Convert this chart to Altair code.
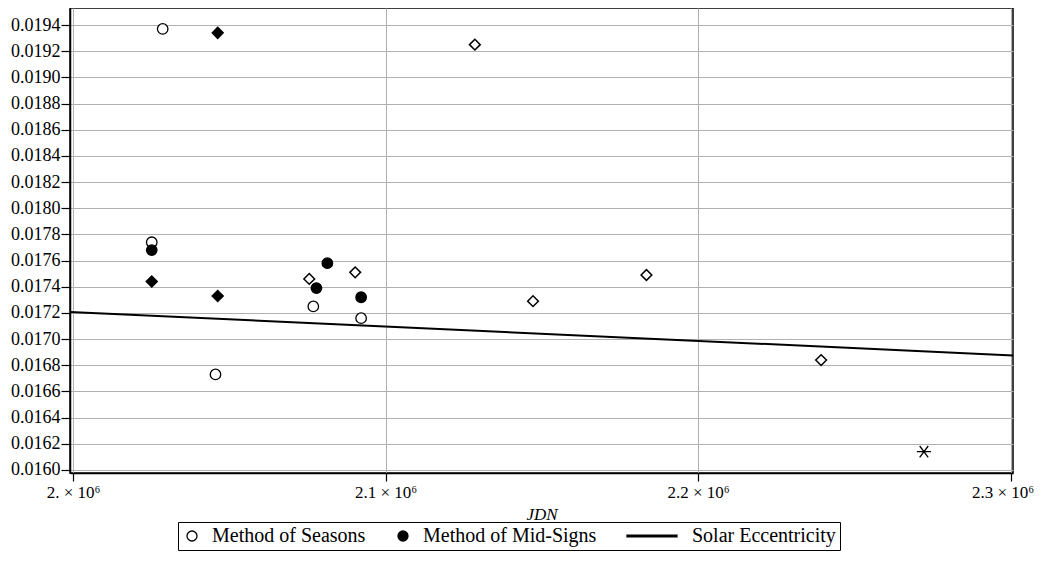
import altair as alt
import pandas as pd

# ---- data ----
series_names = ["Method of Seasons", "Method of Mid-Signs", "Solar Eccentricity"]

seasons_jdn = [2028700, 2025200, 2045600, 2076900, 2092200]
seasons_e = [0.01937, 0.01774, 0.01673, 0.01725, 0.01716]

midsigns_jdn = [2025200, 2081400, 2077900, 2092200]
midsigns_e = [0.01768, 0.01758, 0.01739, 0.01732]

filled_diamond_jdn = [2046300, 2025200, 2046300]
filled_diamond_e = [0.01934, 0.01744, 0.01733]

open_diamond_jdn = [2075600, 2090300, 2128600, 2147200, 2183500, 2239400]
open_diamond_e = [0.01746, 0.01751, 0.01925, 0.01729, 0.01749, 0.01684]

star_jdn = [2272300]
star_e = [0.01614]

solar_jdn = [1999040, 2300800]
solar_e = [0.017208, 0.016875]

y_ticks = [0.0160, 0.0162, 0.0164, 0.0166, 0.0168, 0.0170, 0.0172, 0.0174, 0.0176,
           0.0178, 0.0180, 0.0182, 0.0184, 0.0186, 0.0188, 0.0190, 0.0192, 0.0194]
x_ticks = [2000000, 2100000, 2200000, 2300000]
x_tick_labels = ["2. × 10⁶", "2.1 × 10⁶", "2.2 × 10⁶", "2.3 × 10⁶"]

x_domain = [1999040, 2300800]
y_domain = [0.015977, 0.01953]

# ---- tables ----
circles = pd.DataFrame({
    "JDN": seasons_jdn + midsigns_jdn,
    "e": seasons_e + midsigns_e,
    "series": [series_names[0]] * len(seasons_jdn) + [series_names[1]] * len(midsigns_jdn),
})
fdiam = pd.DataFrame({"JDN": filled_diamond_jdn, "e": filled_diamond_e})
odiam = pd.DataFrame({"JDN": open_diamond_jdn, "e": open_diamond_e})
star = pd.DataFrame({"JDN": star_jdn, "e": star_e})
solar = pd.DataFrame({"JDN": solar_jdn, "e": solar_e})

label_expr = " : ".join(
    f"datum.value == {v} ? '{l}'" for v, l in zip(x_ticks, x_tick_labels)
) + " : ''"

x_enc = alt.X(
    "JDN:Q",
    scale=alt.Scale(domain=x_domain, nice=False, zero=False),
    axis=alt.Axis(
        title="JDN", titleFontStyle="italic", titleFontWeight="normal", titleFontSize=17,
        titlePadding=6, values=x_ticks, labelExpr=label_expr, labelFontSize=17,
        tickSize=8, labelPadding=3, labelFlush=False,
        labelOffset={"condition": {"test": f"datum.value == {x_ticks[-1]}", "value": -8}, "value": 0},
    ),
)
y_enc = alt.Y(
    "e:Q",
    scale=alt.Scale(domain=y_domain, nice=False, zero=False),
    axis=alt.Axis(
        title=None, values=y_ticks, format=".4f", labelFontSize=18,
        tickSize=9, labelPadding=1,
    ),
)

line = alt.Chart(solar).mark_line(color="black", strokeWidth=2).encode(x=x_enc, y=y_enc)

leg = alt.Legend(title=None)
pts = alt.Chart(circles).mark_point(filled=True, opacity=1, size=110, strokeWidth=1.3).encode(
    x=x_enc,
    y=y_enc,
    shape=alt.Shape("series:N",
                    scale=alt.Scale(domain=series_names,
                                    range=["circle", "circle", "M-9,-0.15H1V0.15H-9Z"]),
                    legend=leg),
    fill=alt.Fill("series:N", scale=alt.Scale(domain=series_names, range=["white", "black", "black"]),
                  legend=leg),
    stroke=alt.Stroke("series:N", scale=alt.Scale(domain=series_names, range=["black", "black", "black"]),
                      legend=leg),
)

fd = alt.Chart(fdiam).mark_point(shape="diamond", filled=True, fill="black", stroke="black",
                                 strokeWidth=1.3, size=125, opacity=1).encode(x=x_enc, y=y_enc)
od = alt.Chart(odiam).mark_point(shape="diamond", filled=True, fill="white", stroke="black",
                                 strokeWidth=1.5, size=115, opacity=1).encode(x=x_enc, y=y_enc)
st = alt.Chart(star).mark_point(
    shape="M-1,0L1,0M-0.6,-0.8L0.6,0.8M-0.6,0.8L0.6,-0.8", filled=False, stroke="black",
    strokeWidth=1.3, size=200, opacity=1).encode(x=x_enc, y=y_enc)

chart = alt.layer(line, od, fd, pts, st).properties(
    width=943, height=465,
    autosize=alt.AutoSizeParams(type="none"),
    padding={"left": 62, "top": 0, "right": 24, "bottom": 86},
).configure(
    font="Liberation Serif",
).configure_view(
    stroke="black", strokeWidth=1.5,
).configure_axis(
    domainColor="black", domainWidth=1.5, tickColor="black", tickWidth=1.2,
    gridColor="#b0b0b0", gridWidth=1, labelColor="black", titleColor="black",
    labelFont="Liberation Serif", titleFont="Liberation Serif",
).configure_legend(
    orient="none", legendX=108, legendY=514, direction="horizontal",
    strokeColor="black", strokeWidth=1, padding=4,
    labelFontSize=20, labelFont="Liberation Serif", labelColor="black",
    symbolStrokeWidth=1.3, labelOffset=10, columnPadding=27, labelLimit=400,
)

chart.save("out.html", embed_options={"renderer": "svg", "actions": False})
